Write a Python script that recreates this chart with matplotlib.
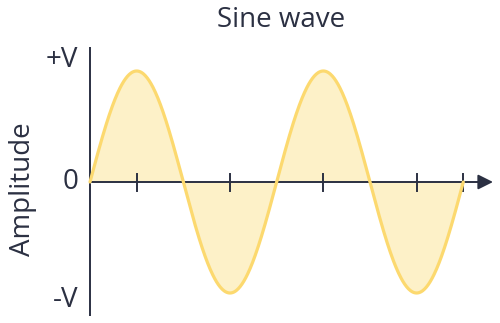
import matplotlib.pyplot as plt
import numpy as np

# wave description
cycles = 2
amplitude = 1.0
tick_pos = [0.25, 0.75, 1.25, 1.75, 2.0]  # in periods
y_labels = ["+V", "0", "-V"]
title = "Sine wave"
ylabel = "Amplitude"

ink = "#2b3042"
line_col = "#fcd96f"
fill_col = "#fdf1c8"

plt.rcParams["font.family"] = ["Open Sans", "DejaVu Sans"]

W, H = 500, 323
fig = plt.figure(figsize=(W / 100, H / 100), dpi=100)
ax = fig.add_axes([0, 0, 1, 1])
ax.set_axis_off()

# pixel geometry of the plot origin and scales
x0, y0 = 90, 182
sx = (463.3 - x0) / cycles
sy = 111.0
ax.set_xlim(-x0 / sx, (W - x0) / sx)
ax.set_ylim(-(H - y0) / sy, y0 / sy)

t = np.linspace(0, cycles, 600)
v = amplitude * np.sin(2 * np.pi * t)
ax.fill_between(t, 0, v, color=fill_col, lw=0, zorder=1)

# axes
ax.plot([0, 0], [(y0 - 47) / sy, -(316 - y0) / sy], color=ink, lw=1.4,
        solid_capstyle="butt", zorder=3)
ax.annotate("", xy=((493 - x0) / sx, 0), xytext=(0, 0),
            arrowprops=dict(arrowstyle="-|>,head_length=0.9,head_width=0.45",
                            color=ink, lw=1.4, shrinkA=0, shrinkB=0),
            zorder=3)
for p in tick_pos:
    ax.plot([p, p], [-8.5 / sy, 8.5 / sy], color=ink, lw=1.4, zorder=3)

ax.plot(t, v, color=line_col, lw=2.3, zorder=4, solid_capstyle="round")

# labels
ytxt = [amplitude * 1.10, 0, -amplitude * 1.065]
for lab, yv in zip(y_labels, ytxt):
    ax.text(-12 / sx, yv, lab, ha="right", va="center", fontsize=20, color=ink)
fig.text(281 / W, 1 - 20 / H, title, ha="center", va="center", fontsize=20, color=ink)
fig.text(23 / W, 1 - 189 / H, ylabel, ha="center", va="center", rotation=90,
         fontsize=20, color=ink)

fig.savefig("out.png", dpi=100)
